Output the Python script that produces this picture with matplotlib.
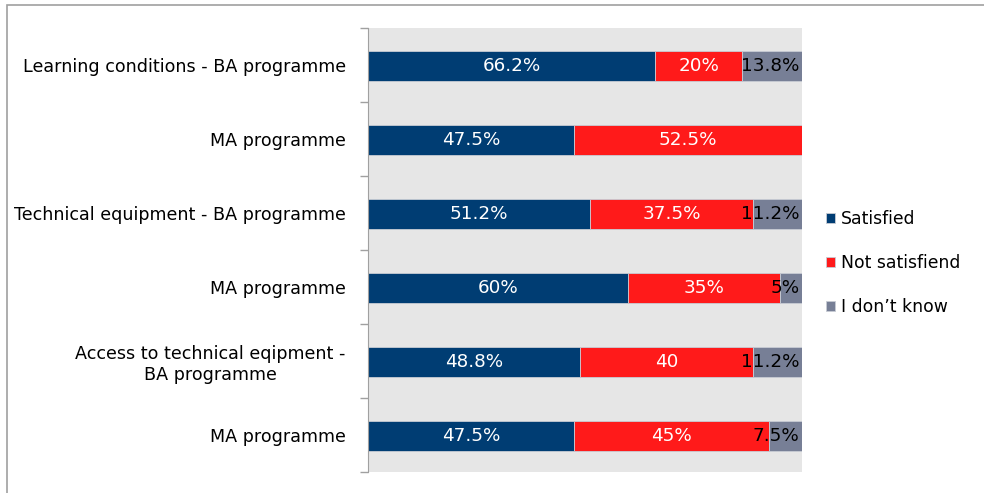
import matplotlib.pyplot as plt
import numpy as np
from matplotlib.patches import Rectangle

# данные из диаграммы (сверху вниз)
categories = ['Learning conditions - BA programme', 'MA programme',
              'Technical equipment - BA programme', 'MA programme',
              'Access to technical eqipment -\nBA programme', 'MA programme']
satisfied = [66.2, 47.5, 51.2, 60, 48.8, 47.5]
not_satisfied = [20, 52.5, 37.5, 35, 40, 45]
dont_know = [13.8, 0, 11.2, 5, 11.2, 7.5]
sat_labels = ['66.2%', '47.5%', '51.2%', '60%', '48.8%', '47.5%']
not_labels = ['20%', '52.5%', '37.5%', '35%', '40', '45%']
dk_labels = ['13.8%', '', '11.2%', '5%', '11.2%', '7.5%']
series_names = ['Satisfied', 'Not satisfiend', 'I don\u2019t know']
colors = ['#003d73', '#ff1a1a', '#777f96']

plt.rcParams['font.family'] = ['DejaVu Sans']

fig = plt.figure(figsize=(9.84, 4.93), dpi=100)
ax = fig.add_axes([368 / 984, 1 - 472 / 493, 434 / 984, 444 / 493])
ax.set_facecolor('#e6e6e6')

y = np.arange(len(categories))
h = 0.41
left = np.zeros(len(categories))
for vals, col, name in zip([satisfied, not_satisfied, dont_know], colors, series_names):
    ax.barh(y + 0.015, vals, left=left, height=h, color=col, edgecolor='#c8ccd4',
            linewidth=0.6, label=name)
    left = left + np.array(vals)

for i in range(len(categories)):
    ax.text(satisfied[i] / 2, y[i] + 0.015, sat_labels[i], ha='center', va='center',
            color='white', fontsize=13.2)
    ax.text(satisfied[i] + not_satisfied[i] / 2, y[i] + 0.015, not_labels[i], ha='center',
            va='center', color='white', fontsize=13.2)
    if dk_labels[i]:
        ax.text(99.4, y[i] + 0.015, dk_labels[i], ha='right', va='center',
                color='black', fontsize=13.2)

ax.set_xlim(0, 100)
ax.set_ylim(len(categories) - 0.5, -0.5)
ax.set_xticks([])
ax.set_yticks(np.arange(len(categories) + 1) - 0.5)
ax.set_yticklabels([])
ax.set_yticks(y, minor=True)
ax.set_yticklabels(categories, minor=True, fontsize=12.6, multialignment='center')
ax.tick_params(axis='y', which='major', length=6, color='#a0a0a0', width=1)
ax.tick_params(axis='y', which='minor', length=0, pad=16)
for s in ['top', 'right', 'bottom']:
    ax.spines[s].set_visible(False)
ax.spines['left'].set_color('#a0a0a0')

leg = fig.legend(loc='center left', bbox_to_anchor=(817 / 984, 1 - 263 / 493),
                 frameon=False, fontsize=12.4, handlelength=0.55, handleheight=0.55,
                 handletextpad=0.35, labelspacing=1.52, borderpad=0)

# рамка вокруг картинки
fig.patches.append(Rectangle((7 / 984, -0.05), 1.2, 1 - 5 / 493 + 0.05,
                             transform=fig.transFigure, fill=False,
                             edgecolor='#a0a0a0', linewidth=1.2))

fig.savefig('out.png', dpi=100)
